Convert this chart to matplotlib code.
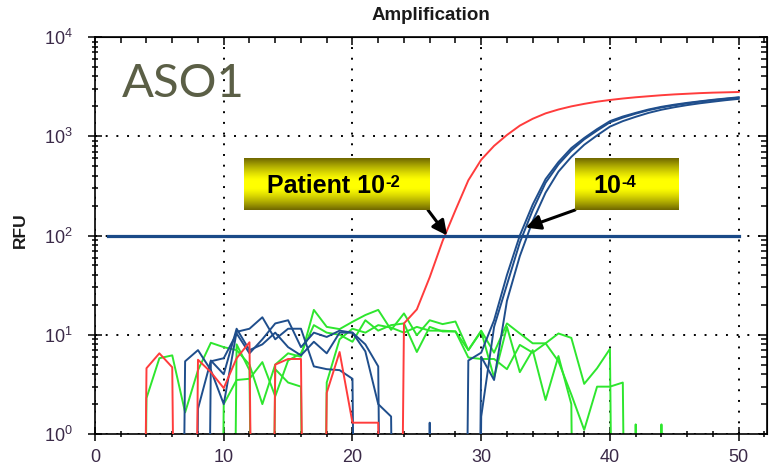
import matplotlib
matplotlib.use('Agg')
import matplotlib.pyplot as plt
import numpy as np
from matplotlib.ticker import MultipleLocator, LogLocator, FuncFormatter, NullFormatter

OFF = 1e-12  # reading below the bottom of the axis (drawn as a drop to the floor)

cycles = np.arange(1, 51)

red = [OFF, OFF, OFF, 4.6, 6.5, 4.7, OFF, 5.6, 4.2, 2.9,
       5.8, 8.4, OFF, 5.0, 5.7, 5.7, OFF, 2.6, 6.7, 1.3,
       1.3, 1.3, OFF, 13, 18, 38, 88, 180, 360, 580,
       800, 1030, 1280, 1500, 1700, 1860, 2000, 2120, 2230, 2320,
       2400, 2470, 2530, 2590, 2640, 2680, 2720, 2750, 2770, 2790]

blue_a = [OFF, OFF, OFF, OFF, OFF, OFF, 5.4, 7.0, 4.4, 2.0,
          10.7, 11.5, 15.0, 9.0, 11.5, 11.5, 4.8, 4.5, 4.4, 3.6,
          OFF, OFF, OFF, OFF, OFF, 1.3, OFF, OFF, 5.5, 6.6,
          14, 40, 100, 205, 370, 550, 760, 960, 1180, 1420,
          1580, 1720, 1860, 1980, 2080, 2170, 2250, 2330, 2400, 2470]

blue_b = [OFF, OFF, OFF, OFF, OFF, OFF, OFF, 1.8, 5.5, 4.0,
          11.5, 7.0, 8.0, 10.5, 7.5, 6.2, 8.5, 6.5, 10.5, 10.5,
          8.0, 4.8, OFF, OFF, OFF, OFF, OFF, OFF, OFF, 1.5,
          12, 32, 85, 180, 340, 520, 720, 930, 1140, 1380,
          1540, 1690, 1830, 1950, 2050, 2140, 2230, 2310, 2380, 2450]

blue_c = [OFF, OFF, OFF, OFF, OFF, OFF, OFF, OFF, 5.4, 5.8,
          10.3, 6.5, 9.0, 13, 14, 7.5, 10.5, 9.5, 11, 10.5,
          6.8, 2.0, 1.5, OFF, OFF, OFF, OFF, OFF, OFF, 6.0,
          3.5, 22, 62, 140, 270, 440, 620, 820, 1020, 1250,
          1420, 1570, 1720, 1850, 1960, 2060, 2150, 2230, 2310, 2380]

green_a = [OFF, OFF, OFF, 2.3, 5.8, 6.2, 1.65, 4.4, 8.3, 7.5,
           7.0, 5.0, 2.0, 5.0, 6.5, 6.0, 17.8, 12.0, 11.4, 13.5,
           15.8, 17.8, 11.2, 16.4, 9.9, 14, 12.8, 13.6, 7.0, 11,
           6.6, 13, 10.3, 8.2, 8.2, 10.3, 9.3, 3.2, 4.6, 7.2,
           OFF, OFF, OFF, OFF, OFF, OFF, OFF, OFF, OFF, OFF]

green_b = [OFF, OFF, OFF, OFF, OFF, OFF, OFF, OFF, OFF, 2.0,
           3.5, 3.6, 5.3, 2.4, 5.5, 6.5, 12.5, 10.5, 10, 8.5,
           14, 11, 12.5, 13, 6.7, 12, 10.8, 10.8, 5.9, 5.7,
           5.7, 4.5, 7.9, 6.6, 8.2, 5.4, 2.5, 1.1, 3.0, 3.0,
           3.3, OFF, OFF, OFF, OFF, OFF, OFF, OFF, OFF, OFF]

green_c = [OFF, OFF, OFF, OFF, OFF, OFF, OFF, OFF, OFF, OFF,
           8.0, 4.4, OFF, 4.5, 3.3, 3.0, OFF, 3.3, 9.0, 11.5,
           10.5, 12.5, 11.8, 10.5, 12, 11, 11, 10.8, 7.0, 10.8,
           3.7, 12, 4.2, 7.0, 2.2, 6.1, 2.0, OFF, OFF, OFF,
           OFF, 1.25, OFF, 1.25, OFF, OFF, OFF, OFF, OFF, OFF]

threshold_x = [1, 50]
threshold = 100

plt.rcParams['font.family'] = ['Liberation Sans', 'DejaVu Sans']

W, H = 772, 472
fig = plt.figure(figsize=(W / 100, H / 100), dpi=100)
ax = fig.add_axes([95 / W, 38 / H, 672 / W, 397 / H])

green_col = '#2ee62e'
blue_col = '#1f4e8c'
red_col = '#ff3c3c'

for g in (green_a, green_b, green_c):
    ax.plot(cycles, g, color=green_col, lw=1.4, zorder=2)
for b in (blue_a, blue_b, blue_c):
    ax.plot(cycles, b, color=blue_col, lw=1.4, zorder=3)
ax.plot(cycles, red, color=red_col, lw=1.4, zorder=4)
ax.plot(threshold_x, [threshold, threshold], color='#1a4a88', lw=2.3, zorder=5)

ax.set_yscale('log')
ax.set_ylim(1, 1e4)
ax.set_xlim(0, 52.2)

ax.xaxis.set_major_locator(MultipleLocator(10))
ax.xaxis.set_minor_locator(MultipleLocator(2))
ax.yaxis.set_major_locator(LogLocator(base=10))
ax.yaxis.set_minor_locator(LogLocator(base=10, subs=np.arange(2, 10)))
ax.yaxis.set_minor_formatter(NullFormatter())
ax.yaxis.set_major_formatter(FuncFormatter(
    lambda v, p: r'$\mathregular{10^{%d}}$' % round(np.log10(v))))

lab_col = '#3b2a48'
ax.tick_params(which='major', direction='inout', length=10, width=1.1,
               labelsize=13, labelcolor=lab_col)
ax.tick_params(which='minor', direction='inout', length=5, width=1.1)
ax.tick_params(axis='x', which='major', pad=6)
ax.tick_params(axis='y', which='major', pad=11)

for s in ax.spines.values():
    s.set_linewidth(1.2)

ax.grid(which='major', color='black', linestyle=(0, (1, 4.5)), linewidth=1.4)

top = ax.secondary_xaxis('top')
top.xaxis.set_major_locator(MultipleLocator(10))
top.xaxis.set_minor_locator(MultipleLocator(2))
top.tick_params(which='both', direction='in', labeltop=False, width=1.1)
top.tick_params(which='major', length=6)
top.tick_params(which='minor', length=4)

right = ax.secondary_yaxis('right')
right.yaxis.set_major_locator(LogLocator(base=10))
right.yaxis.set_minor_locator(LogLocator(base=10, subs=np.arange(2, 10)))
right.tick_params(which='both', direction='in', labelright=False, width=1.1)
right.tick_params(which='major', length=6)
right.tick_params(which='minor', length=4)

fig.text(431 / W, 1 - 15 / H, 'Amplification', ha='center', va='center',
         fontsize=13.5, fontweight='bold', color='#1a1a1a')
fig.text(20 / W, 1 - 230 / H, 'RFU', ha='center', va='center', rotation=90,
         fontsize=12.5, fontweight='bold', color='#1a1a1a')

ax.text(0.04, 0.849, 'ASO1', transform=ax.transAxes, ha='left', va='baseline',
        fontsize=34, color='#5b5f46', family='Lato', zorder=6)

# arrows from the labels to the threshold crossings
ax.annotate('', xy=(27.35, 100), xycoords='data', xytext=(428, 262),
            textcoords='figure pixels',
            arrowprops=dict(arrowstyle='-|>', color='black', lw=2.2,
                            mutation_scale=22, shrinkA=0, shrinkB=0), zorder=7)
ax.annotate('', xy=(33.45, 120), xycoords='data', xytext=(575, 262),
            textcoords='figure pixels',
            arrowprops=dict(arrowstyle='-|>', color='black', lw=2.2,
                            mutation_scale=22, shrinkA=0, shrinkB=0), zorder=7)


def yellow_box(left, top_px, width, height, label, sup, split):
    bax = fig.add_axes([left / W, 1 - (top_px + height) / H, width / W, height / H])
    t = np.linspace(0, 1, 80)
    k = 1 - np.clip((np.abs(2 * t - 1) - 0.15) / 0.85, 0, 1) ** 1.3
    dark = np.array([0.44, 0.41, 0.0])
    light = np.array([1.0, 1.0, 0.0])
    img = dark[None, :] * (1 - k[:, None]) + light[None, :] * k[:, None]
    bax.imshow(img[:, None, :], aspect='auto', extent=(0, 1, 0, 1))
    bax.axis('off')
    bax.text(split, 0.32, label, ha='right', va='baseline', fontsize=18,
             fontweight='bold', color='black', transform=bax.transAxes)
    bax.text(split + 0.004, 0.45, sup, ha='left', va='baseline', fontsize=12,
             fontweight='bold', color='black', transform=bax.transAxes)


yellow_box(244, 158, 186, 52, 'Patient 10', '-2', 0.758)
yellow_box(575, 158, 104, 52, '10', '-4', 0.44)

fig.savefig('out.png', dpi=100)
